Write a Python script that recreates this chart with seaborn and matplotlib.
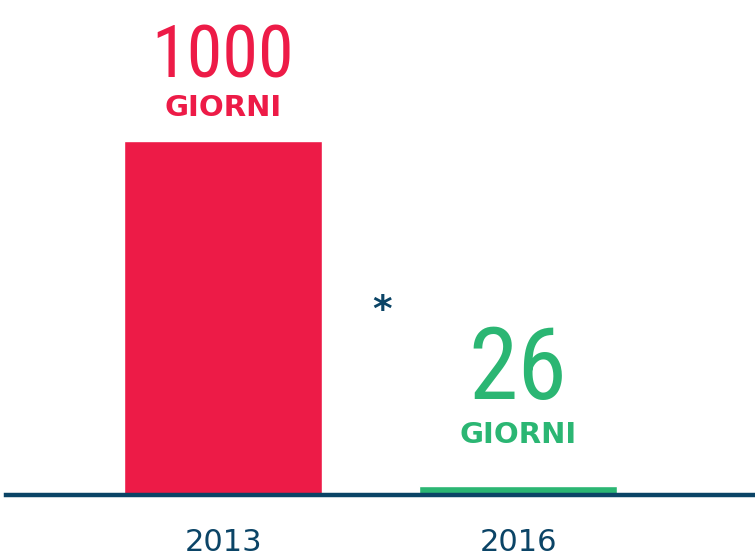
import matplotlib
matplotlib.use('Agg')
import matplotlib.pyplot as plt
from matplotlib import font_manager
import seaborn as sns

# Data
years = ['2013', '2016']
days = [1000, 26]
unit = 'GIORNI'
bar_colors = ['#ED1B47', '#2BB673']
navy = '#0B4466'

# pick the narrowest sans available for the big numbers
files = [f.fname for f in font_manager.fontManager.ttflist]
names = {f.name for f in font_manager.fontManager.ttflist}
num_font = {'family': 'DejaVu Sans'}
for cand in ['Roboto Condensed', 'Liberation Sans Narrow', 'Open Sans Condensed', 'Noto Sans Display']:
    if cand in names:
        num_font = {'family': cand}
        break
else:
    if any('DejaVuSansCondensed' in f for f in files):
        num_font = {'family': 'DejaVu Sans', 'fontstretch': 'condensed'}

sns.set_style('white')

fig = plt.figure(figsize=(7.55, 5.59), dpi=100)
ax = fig.add_axes([0.008, 0.1145, 0.992, 0.8855])

sns.barplot(x=years, y=days, hue=years, palette=bar_colors, legend=False,
            width=0.671, saturation=1, ax=ax)

ax.set_xlim(-0.7356, 1.803)
ax.set_ylim(0, 1398)

for s in ['top', 'right', 'left']:
    ax.spines[s].set_visible(False)
ax.spines['bottom'].set_color(navy)
ax.spines['bottom'].set_linewidth(3.2)
ax.set_yticks([])
ax.tick_params(axis='x', length=0, pad=24, labelsize=22, labelcolor=navy)
for lbl in ax.get_xticklabels():
    lbl.set_family('DejaVu Sans')
ax.set_xlabel('')
ax.set_ylabel('')

# labels above bars: big number on top of the unit
num_sizes = [52, 72]
num_off = [35, 48]
unit_off = [18, 31]
for i, (v, c) in enumerate(zip(days, bar_colors)):
    ax.annotate(str(v), xy=(i, v), xytext=(0, num_off[i]), textcoords='offset points',
                ha='center', va='bottom', color=c, fontsize=num_sizes[i], **num_font)
    ax.annotate(unit, xy=(i, v), xytext=(0, unit_off[i]), textcoords='offset points',
                ha='center', va='baseline', color=c, fontsize=21, fontweight='bold',
                family='DejaVu Sans')

ax.text(0.539, 520, '*', ha='center', va='center', color=navy, fontsize=27,
        fontweight='bold')

fig.savefig('out.png', dpi=100)
